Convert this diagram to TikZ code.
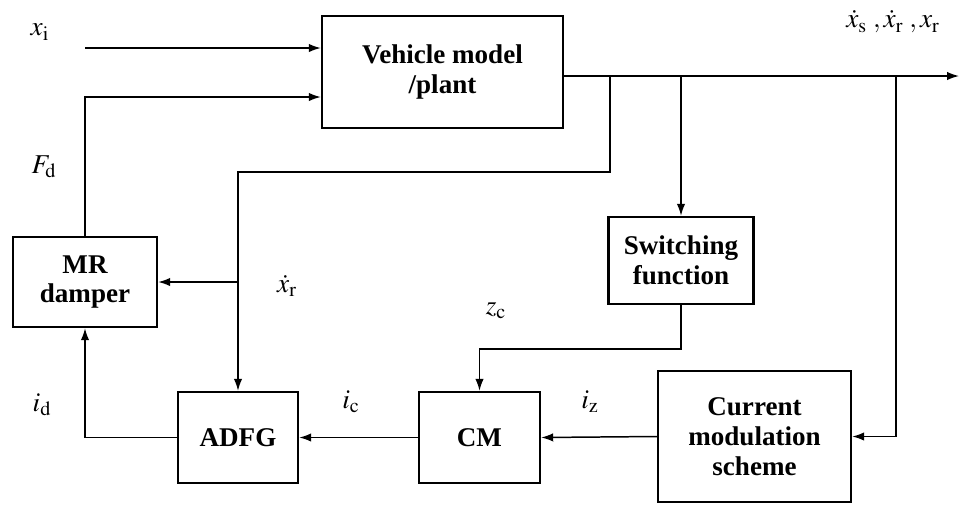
\documentclass[tikz,border=0pt]{standalone}
\usepackage{mathptmx}
\usepackage{fontspec}
\setmainfont{Liberation Serif}
\usetikzlibrary{arrows.meta}

\begin{document}
\begin{tikzpicture}[x=0.02cm,y=-0.02cm,
  blk/.style={draw, line width=1.4pt, align=center, inner sep=0pt,
    font=\bfseries\fontsize{15.4}{17}\selectfont},
  conn/.style={line width=0.85pt},
  sig/.style={conn, -{Latex[length=2.4mm,width=1.7mm]}},
  lbl/.style={font=\fontsize{15.5}{17}\selectfont}]

\useasboundingbox (0,0) rectangle (961,505);

% blocks
\node[blk, minimum width=4.82cm, minimum height=2.24cm] (veh) at (442.5,72) {Vehicle model\\/plant};
\node[blk, minimum width=2.88cm, minimum height=1.8cm] (mr) at (85,282) {MR\\damper};
\node[blk, minimum width=2.9cm, minimum height=1.74cm] (sw) at (681,260.5) {Switching\\function};
\node[blk, minimum width=2.4cm, minimum height=1.82cm] (adfg) at (238,437.5) {ADFG};
\node[blk, minimum width=2.42cm, minimum height=1.82cm] (cm) at (479.5,437.5) {CM};
\node[blk, minimum width=3.86cm, minimum height=2.62cm] (cur) at (754.5,436.5) {Current\\modulation\\scheme};

% signal labels
\node[lbl] (lxi) at (40,32) {$x_{\mathrm{i}}$};
\node[lbl] (lfd) at (44,167) {$F_{\mathrm{d}}$};
\node[lbl] (lxr) at (287,286) {$\dot{x}_{\mathrm{r}}$};
\node[lbl] (lid) at (42,405) {$i_{\mathrm{d}}$};
\node[lbl] (lic) at (351,402) {$i_{\mathrm{c}}$};
\node[lbl] (lzc) at (496,311) {$z_{\mathrm{c}}$};
\node[lbl] (liz) at (590,402) {$i_{\mathrm{z}}$};
\node[lbl] (lout) at (893,22) {$\dot{x}_{\mathrm{s}}\;,\dot{x}_{\mathrm{r}}\;,x_{\mathrm{r}}$};

% branch points
\coordinate (xin) at (85,48);
\coordinate (fd) at (85,97);
\coordinate (outend) at (959,76);
\coordinate (tapA) at (610,76);
\coordinate (tapB) at (681,76);
\coordinate (tapC) at (896,76);
\coordinate (loopA) at (238,172);
\coordinate (loopB) at (479.5,349);

% connectors
\draw[sig] (xin) -- (xin -| veh.west);
\draw[sig] (mr.north) -- (fd) -- (fd -| veh.west);
\draw[sig] (veh.east |- tapA) -- (outend);
\draw[sig] (tapA) |- (loopA) -- (adfg.north);
\draw[sig] (loopA |- mr.east) -- (mr.east);
\draw[sig] (tapB) -- (sw.north);
\draw[sig] (sw.south) |- (loopB) -- (cm.north);
\draw[sig] (tapC) |- (cur.east);
\draw[sig] (cur.west) -- (cm.east);
\draw[sig] (cm.west) -- (adfg.east);
\draw[sig] (adfg.west) -| (mr.south);

\end{tikzpicture}
\end{document}
